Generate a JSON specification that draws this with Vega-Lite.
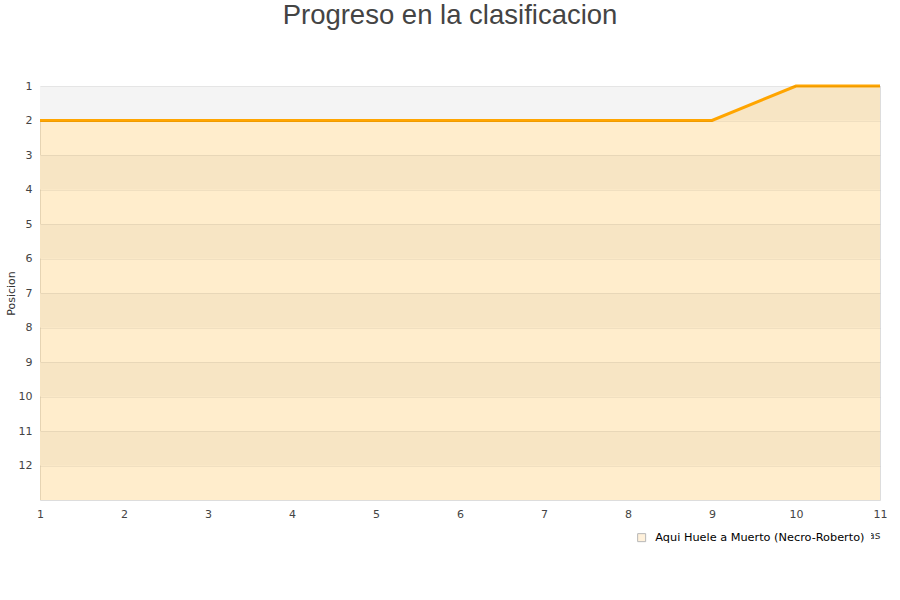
{
  "$schema": "https://vega.github.io/schema/vega-lite/v6.json",
  "width": 840,
  "height": 414,
  "autosize": "none",
  "padding": {"left": 40, "top": 86, "right": 20, "bottom": 100},
  "background": "white",
  "config": {
    "view": {"stroke": "#dddddd", "strokeWidth": 1},
    "font": "DejaVu Sans",
    "axis": {"labelOverlap": false, "labelFlush": false},
    "axisY": {"labelOverlap": false, "tickCount": 12}
  },
  "title": {
    "text": "Progreso en la clasificacion",
    "font": "Liberation Sans",
    "fontSize": 27.5,
    "fontWeight": "normal",
    "color": "#444444",
    "anchor": "middle",
    "frame": "group",
    "dx": -10,
    "offset": 51
  },
  "datasets": {
    "bands": [
      {"desde": 1, "hasta": 2},
      {"desde": 3, "hasta": 4},
      {"desde": 5, "hasta": 6},
      {"desde": 7, "hasta": 8},
      {"desde": 9, "hasta": 10},
      {"desde": 11, "hasta": 12}
    ],
    "progreso": [
      {"jornada": 1, "posicion": 2, "fondo": 13, "equipo": "Aqui Huele a Muerto (Necro-Roberto)"},
      {"jornada": 2, "posicion": 2, "fondo": 13, "equipo": "Aqui Huele a Muerto (Necro-Roberto)"},
      {"jornada": 3, "posicion": 2, "fondo": 13, "equipo": "Aqui Huele a Muerto (Necro-Roberto)"},
      {"jornada": 4, "posicion": 2, "fondo": 13, "equipo": "Aqui Huele a Muerto (Necro-Roberto)"},
      {"jornada": 5, "posicion": 2, "fondo": 13, "equipo": "Aqui Huele a Muerto (Necro-Roberto)"},
      {"jornada": 6, "posicion": 2, "fondo": 13, "equipo": "Aqui Huele a Muerto (Necro-Roberto)"},
      {"jornada": 7, "posicion": 2, "fondo": 13, "equipo": "Aqui Huele a Muerto (Necro-Roberto)"},
      {"jornada": 8, "posicion": 2, "fondo": 13, "equipo": "Aqui Huele a Muerto (Necro-Roberto)"},
      {"jornada": 9, "posicion": 2, "fondo": 13, "equipo": "Aqui Huele a Muerto (Necro-Roberto)"},
      {"jornada": 10, "posicion": 1, "fondo": 13, "equipo": "Aqui Huele a Muerto (Necro-Roberto)"},
      {"jornada": 11, "posicion": 1, "fondo": 13, "equipo": "Aqui Huele a Muerto (Necro-Roberto)"}
    ]
  },
  "layer": [
    {
      "data": {"name": "bands"},
      "mark": {"type": "rect", "fill": "#f4f4f4"},
      "encoding": {
        "y": {
          "field": "desde",
          "type": "quantitative",
          "scale": {"domain": [1, 13], "reverse": true, "nice": false, "zero": false},
          "axis": {
            "title": "Posicion",
            "titleFont": "DejaVu Sans",
            "titleFontSize": 11,
            "titleFontWeight": "normal",
            "titleColor": "#333333",
            "titlePadding": 2,
            "values": [1, 2, 3, 4, 5, 6, 7, 8, 9, 10, 11, 12],
            "tickCount": 12,
            "format": "d",
            "labelOverlap": false,
            "labelFontSize": 11,
            "labelColor": "#444444",
            "labelPadding": 8,
            "ticks": false,
            "domain": false,
            "grid": true,
            "gridColor": "#000000",
            "gridOpacity": 0.06,
            "zindex": 1
          }
        },
        "y2": {"field": "hasta"}
      }
    },
    {
      "data": {"name": "progreso"},
      "mark": {"type": "area", "fill": "#ffbc42", "fillOpacity": 0.27, "interpolate": "linear"},
      "encoding": {
        "x": {
          "field": "jornada",
          "type": "quantitative",
          "scale": {"domain": [1, 11], "nice": false, "zero": false},
          "axis": {
            "title": "Jornadas",
            "titleFont": "DejaVu Sans",
            "titleFontSize": 11,
            "titleFontWeight": "normal",
            "titleColor": "#333333",
            "titleAnchor": "end",
            "titlePadding": 10,
            "values": [1, 2, 3, 4, 5, 6, 7, 8, 9, 10, 11],
            "format": "d",
            "labelFontSize": 11,
            "labelColor": "#444444",
            "labelPadding": 8,
            "labelFlush": false,
            "ticks": false,
            "domain": false,
            "grid": false
          }
        },
        "y": {
          "field": "posicion",
          "type": "quantitative",
          "axis": {
            "title": "Posicion",
            "titleFont": "DejaVu Sans",
            "titleFontSize": 11,
            "titleFontWeight": "normal",
            "titleColor": "#333333",
            "titlePadding": 2,
            "values": [1, 2, 3, 4, 5, 6, 7, 8, 9, 10, 11, 12],
            "tickCount": 12,
            "format": "d",
            "labelOverlap": false,
            "labelFontSize": 11,
            "labelColor": "#444444",
            "labelPadding": 8,
            "ticks": false,
            "domain": false,
            "grid": true,
            "gridColor": "#000000",
            "gridOpacity": 0.06,
            "zindex": 1
          }
        },
        "y2": {"field": "fondo"}
      }
    },
    {
      "data": {"name": "progreso"},
      "mark": {"type": "square", "size": 0, "filled": true},
      "encoding": {
        "x": {"field": "jornada", "type": "quantitative"},
        "y": {"field": "fondo", "type": "quantitative"},
        "color": {
          "field": "equipo",
          "type": "nominal",
          "scale": {"range": ["#ffeccc"]},
          "legend": {
            "title": null,
            "orient": "none",
            "legendX": 590,
            "legendY": 440,
            "padding": 6,
            "fillColor": "#ffffff",
            "zindex": 2,
            "symbolType": "square",
            "symbolSize": 64,
            "symbolStrokeColor": "#999999",
            "symbolStrokeWidth": 1,
            "labelFontSize": 11.3,
            "labelColor": "#000000",
            "labelOffset": 8,
            "labelLimit": 0
          }
        }
      }
    },
    {
      "data": {"name": "progreso"},
      "mark": {"type": "line", "color": "#ffa500", "strokeWidth": 3},
      "encoding": {
        "x": {"field": "jornada", "type": "quantitative"},
        "y": {"field": "posicion", "type": "quantitative"}
      }
    }
  ]
}
